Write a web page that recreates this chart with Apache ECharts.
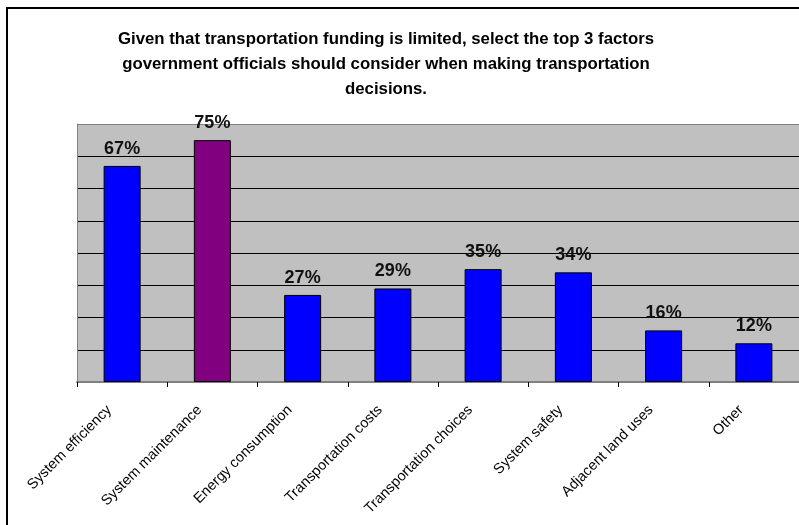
<!DOCTYPE html>
<html><head><meta charset="utf-8">
<script src="https://cdn.jsdelivr.net/npm/echarts@6/dist/echarts.min.js"></script>
<style>html,body{margin:0;padding:0;background:#fff}#c{width:799px;height:525px}</style>
</head><body><div id="c"></div>
<script>
const categories = ['System efficiency','System maintenance','Energy consumption','Transportation costs','Transportation choices','System safety','Adjacent land uses','Other'];
const values = [67, 75, 27, 29, 35, 34, 16, 12];
const barColors = ['#0000ff','#800080','#0000ff','#0000ff','#0000ff','#0000ff','#0000ff','#0000ff'];
const titleText = 'Given that transportation funding is limited, select the top 3 factors\ngovernment officials should consider when making transportation\ndecisions.';

const chart = echarts.init(document.getElementById('c'), null, {renderer:'canvas'});
const font = '"Liberation Sans", Arial, sans-serif';
chart.setOption({
  animation:false,
  backgroundColor:'#fff',
  title:{text:titleText, left:381, top:22, textAlign:'center',
    textStyle:{fontFamily:font, fontSize:16.8, fontWeight:'bold', color:'#000', lineHeight:25}},
  graphic:[{type:'rect', shape:{x:7,y:8,width:900,height:700}, style:{fill:null, stroke:'#000', lineWidth:2}, z:100}],
  grid:{left:77, top:124, right:-4, height:258, show:true, backgroundColor:'#c0c0c0', borderWidth:0},
  xAxis:{type:'category', data:categories,
    axisLine:{lineStyle:{color:'#808080', width:2}},
    axisTick:{show:true, length:5, lineStyle:{color:'#000'}},
    axisLabel:{rotate:45, interval:0, fontFamily:font, fontSize:14.5, color:'#000', margin:13, padding:[0,18,0,0]}},
  yAxis:{type:'value', min:0, max:80, interval:10,
    axisLine:{show:true, lineStyle:{color:'#808080'}}, axisTick:{show:false}, axisLabel:{show:false},
    splitLine:{lineStyle:{color:['#808080','#000','#000','#000','#000','#000','#000','#000','#808080'], width:1}}},
  series:[{type:'bar', data:values.map((v,i)=>({value:v, itemStyle:{color:barColors[i]}})),
    barWidth:'41%',
    itemStyle:{borderColor:'#000', borderWidth:1},
    label:{show:true, position:'top', formatter:'{c}%', fontFamily:font, fontSize:18, fontWeight:'bold', color:'#111', distance:8}}]
});
</script></body></html>
